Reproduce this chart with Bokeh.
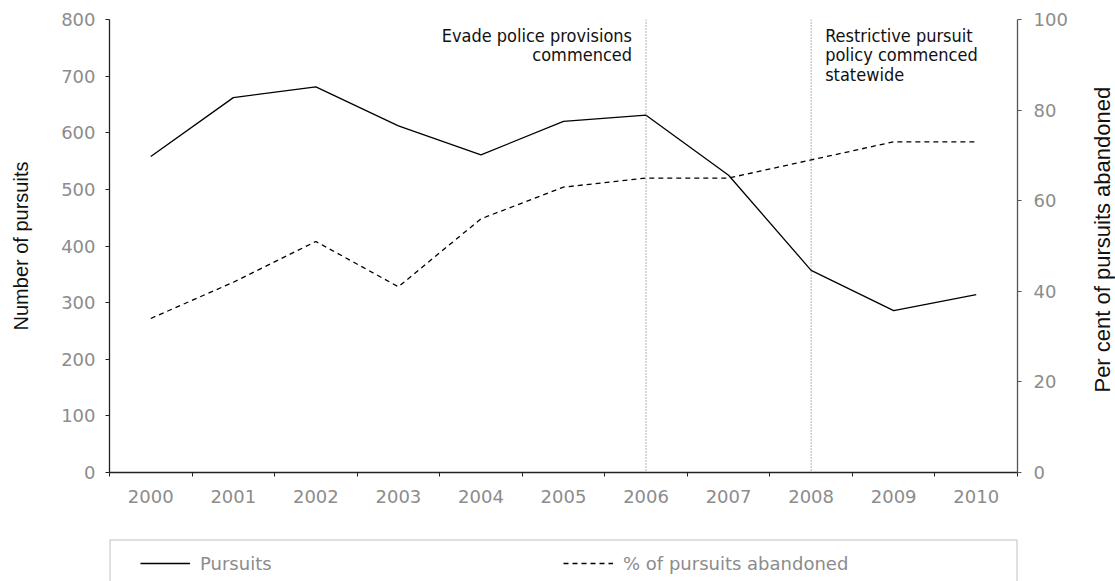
import math
from bokeh.plotting import figure
from bokeh.layouts import column, row
from bokeh.models import (Range1d, LinearAxis, FixedTicker, Span, Label, Legend, LegendItem,
                          BoxAnnotation)
from bokeh.embed import file_html
from bokeh.resources import INLINE

years = [2000, 2001, 2002, 2003, 2004, 2005, 2006, 2007, 2008, 2009, 2010]
year_labels = [str(y) for y in years]
pursuits = [558, 662, 681, 612, 561, 620, 631, 525, 357, 286, 314]
pct_abandoned = [34, 42, 51, 41, 56, 63, 65, 65, 69, 73, 73]
left_ticks = [0, 100, 200, 300, 400, 500, 600, 700, 800]
right_ticks = [0, 20, 40, 60, 80, 100]
event_years = [2006, 2008]
event_left = ["Evade police provisions", "commenced"]
event_right = ["Restrictive pursuit", "policy commenced", "statewide"]
left_title = "Number of pursuits"
right_title = "Per cent of pursuits abandoned"
legend_labels = ["Pursuits", "% of pursuits abandoned"]

GRAY = "#8c8c8c"
TICKFONT = "DejaVu Sans"
TITLEFONT = "Liberation Sans"
ANNFONT = "DejaVu Sans Condensed"
NAN = float("nan")


def bare(fig):
    fig.outline_line_color = None
    fig.xgrid.visible = False
    fig.ygrid.visible = False
    fig.background_fill_color = "white"
    fig.border_fill_color = "white"


p = figure(width=1085, height=539, output_backend="svg", toolbar_location=None,
           x_range=Range1d(years[0] - 0.5, years[-1] + 0.5),
           y_range=Range1d(0, 800),
           min_border_left=109, min_border_right=68, min_border_top=19, min_border_bottom=67,
           x_axis_location=None, y_axis_location=None)
bare(p)
p.extra_y_ranges = {"pct": Range1d(0, 100)}

# x axis
xaxis = LinearAxis(ticker=FixedTicker(ticks=years, minor_ticks=[y - 0.5 for y in years] + [years[-1] + 0.5]),
                   major_label_overrides={y: l for y, l in zip(years, year_labels)})
xaxis.major_tick_out = 0
xaxis.major_tick_in = 0
xaxis.minor_tick_out = 4
xaxis.minor_tick_in = 0
xaxis.minor_tick_line_color = "#222222"
xaxis.axis_line_color = "#222222"
xaxis.axis_line_width = 1.3
xaxis.major_label_text_font = TICKFONT
xaxis.major_label_text_font_size = "18px"
xaxis.major_label_text_color = GRAY
xaxis.major_label_standoff = 13
p.add_layout(xaxis, "below")

# left axis
yaxis = LinearAxis(ticker=FixedTicker(ticks=left_ticks), axis_label=left_title)
yaxis.major_tick_out = 4
yaxis.major_tick_in = 0
yaxis.minor_tick_out = 0
yaxis.minor_tick_in = 0
yaxis.axis_line_color = "#222222"
yaxis.axis_line_width = 1.3
yaxis.major_tick_line_color = "#222222"
yaxis.major_label_text_font = TICKFONT
yaxis.major_label_text_font_size = "18px"
yaxis.major_label_text_color = GRAY
yaxis.major_label_standoff = 10
yaxis.axis_label_text_font = TITLEFONT
yaxis.axis_label_text_font_size = "20px"
yaxis.axis_label_text_font_style = "normal"
yaxis.axis_label_text_color = "#111111"
yaxis.axis_label_standoff = 26
p.add_layout(yaxis, "left")

# right axis (title drawn in a side strip)
raxis = LinearAxis(y_range_name="pct", ticker=FixedTicker(ticks=right_ticks))
raxis.major_tick_out = 4
raxis.major_tick_in = 0
raxis.minor_tick_out = 0
raxis.minor_tick_in = 0
raxis.axis_line_color = "#555555"
raxis.axis_line_width = 1.3
raxis.major_tick_line_color = "#555555"
raxis.major_label_text_font = TICKFONT
raxis.major_label_text_font_size = "18px"
raxis.major_label_text_color = GRAY
raxis.major_label_standoff = 12
p.add_layout(raxis, "right")

# event lines
for ey in event_years:
    p.add_layout(Span(location=ey, dimension="height", line_color="#666666",
                      line_dash="1 2", line_width=1))

r1 = p.line(years, pursuits, line_color="black", line_width=1.3)
r2 = p.line(years, pct_abandoned, y_range_name="pct", line_color="black",
            line_width=1.3, line_dash="5 4")

ann_y = [772, 738, 703]
for i, t in enumerate(event_left):
    p.add_layout(Label(x=event_years[0], y=ann_y[i], x_offset=-14, text=t, text_align="right",
                       text_baseline="alphabetic", text_font=ANNFONT, text_font_size="18px",
                       text_color="#111111"))
for i, t in enumerate(event_right):
    p.add_layout(Label(x=event_years[1], y=ann_y[i], x_offset=14, text=t, text_align="left",
                       text_baseline="alphabetic", text_font=ANNFONT, text_font_size="18px",
                       text_color="#111111"))

# right title strip
s = figure(width=30, height=539, output_backend="svg", toolbar_location=None,
           x_range=Range1d(0, 1), y_range=Range1d(0, 100),
           min_border_left=0, min_border_right=0, min_border_top=19, min_border_bottom=67,
           x_axis_location=None, y_axis_location=None)
bare(s)
s.add_layout(Label(x=0.55, y=51.4, text=right_title, angle=math.pi / 2,
                   text_align="center", text_baseline="middle",
                   text_font="Liberation Sans", text_font_size="22px", text_color="#111111"))

# legend strip
q = figure(width=1115, height=42, output_backend="svg", toolbar_location=None,
           x_range=Range1d(0, 1), y_range=Range1d(0, 1),
           min_border_left=109, min_border_right=98, min_border_top=0, min_border_bottom=0,
           x_axis_location=None, y_axis_location=None)
bare(q)
q.add_layout(BoxAnnotation(left=0, right=1, top=1, bottom=-1, fill_alpha=0,
                           line_color="#333333", line_width=2))
l1 = q.line(x=[NAN, NAN], y=[NAN, NAN], line_color="black", line_width=1.3)
l2 = q.line(x=[NAN, NAN], y=[NAN, NAN], line_color="black", line_width=1.3, line_dash="5 4")
legend = Legend(items=[LegendItem(label=legend_labels[0], renderers=[l1]),
                       LegendItem(label=legend_labels[1], renderers=[l2])],
                orientation="horizontal", location=(31, 6),
                padding=0, margin=0, spacing=0,
                glyph_width=50, glyph_height=24, label_height=24, label_width=363,
                label_standoff=10,
                label_text_font=TICKFONT, label_text_font_size="18px", label_text_color=GRAY,
                border_line_color=None, background_fill_alpha=0)
q.add_layout(legend, "center")

layout = column(row(p, s, spacing=0), q, spacing=0)
open("out.html", "w").write(file_html(layout, INLINE))
